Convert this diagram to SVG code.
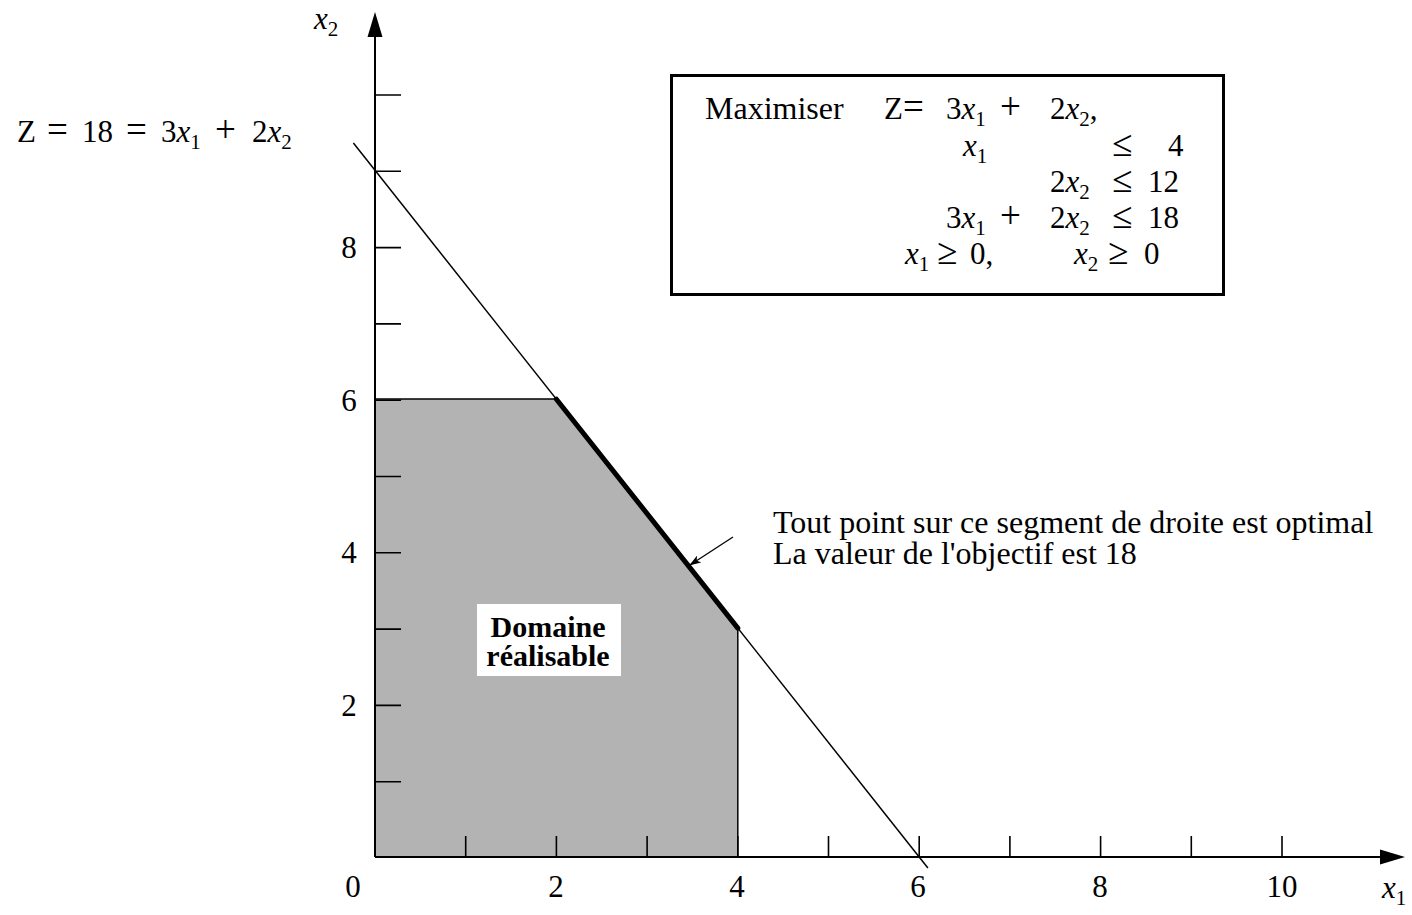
<svg xmlns="http://www.w3.org/2000/svg" width="1412" height="915" viewBox="0 0 1412 915">
<defs>
<style>
.t{font-family:'Liberation Serif',serif;font-size:31px;fill:#000}
.i{font-style:italic}
.s{font-size:21px;font-style:normal}
.op{font-size:37px}
.b{font-weight:bold;font-size:30px}
.ax{stroke:#000;stroke-width:2;fill:none}
.tk{stroke:#000;stroke-width:1.6;fill:none}
.thin{stroke:#000;stroke-width:1.5;fill:none}
</style>
<marker id="ah" viewBox="0 0 12 8" refX="11" refY="4" markerWidth="12" markerHeight="8" markerUnits="userSpaceOnUse" orient="auto">
<path d="M0,0 L12,4 L0,8 L3,4 z" fill="#000"/>
</marker>
</defs>
<rect width="1412" height="915" fill="#fff"/>

<g id="region">
<polygon points="375,857 375,399 556.4,399 737.8,628 737.8,857" fill="#b3b3b3"/>
<polyline class="thin" points="375,399 556.4,399"/>
<polyline class="thin" points="737.8,628 737.8,857"/>
<rect x="477" y="604" width="144" height="72" fill="#fff"/>
<text class="t b" x="548" y="637" text-anchor="middle">Domaine</text>
<text class="t b" x="548" y="666" text-anchor="middle">réalisable</text>
</g>

<g id="axes">
<line class="ax" x1="375" y1="857" x2="375" y2="30"/>
<polygon points="375,12 367.5,37 382.5,37" fill="#000"/>
<line class="ax" x1="375" y1="857" x2="1385" y2="857"/>
<polygon points="1405,857 1380,849.5 1380,864.5" fill="#000"/>
<g class="tk">
<path d="M375,781.7H401M375,705.4H401M375,629.1H401M375,552.8H401M375,476.5H401M375,400.2H401M375,323.9H401M375,247.6H401M375,171.3H401M375,95H401"/>
<path d="M465.7,857V836M556.4,857V836M647.1,857V836M737.8,857V836M828.5,857V836M919.2,857V836M1009.9,857V836M1100.6,857V836M1191.3,857V836M1282,857V836"/>
</g>
<text class="t" text-anchor="middle" x="349" y="716">2</text>
<text class="t" text-anchor="middle" x="349" y="563">4</text>
<text class="t" text-anchor="middle" x="349" y="411">6</text>
<text class="t" text-anchor="middle" x="349" y="258">8</text>
<text class="t" text-anchor="middle" x="353" y="897">0</text>
<text class="t" text-anchor="middle" x="556" y="897">2</text>
<text class="t" text-anchor="middle" x="737" y="897">4</text>
<text class="t" text-anchor="middle" x="918" y="897">6</text>
<text class="t" text-anchor="middle" x="1100" y="897">8</text>
<text class="t" text-anchor="middle" x="1282" y="897">10</text>
<text class="t" y="898"><tspan class="i" x="1382">x</tspan><tspan class="s" dy="7">1</tspan></text>
<text class="t" y="29"><tspan class="i" x="314">x</tspan><tspan class="s" dy="7">2</tspan></text>
</g>

<g id="connectors">
<line class="thin" x1="353.4" y1="143" x2="927.9" y2="868"/>
<line x1="556.4" y1="399.2" x2="737.8" y2="628.1" stroke="#000" stroke-width="5" stroke-linecap="round"/>
<line x1="733" y1="537" x2="690" y2="565" stroke="#000" stroke-width="1.3" marker-end="url(#ah)"/>
</g>

<g id="zlabel">
<text class="t" x="17" y="142">Z</text>
<text class="t op" x="47" y="142">=</text>
<text class="t" x="82" y="142">18</text>
<text class="t op" x="126" y="142">=</text>
<text class="t" x="161" y="142">3<tspan class="i">x</tspan><tspan class="s" dy="7">1</tspan></text>
<text class="t op" x="215" y="142">+</text>
<text class="t" x="252" y="142">2<tspan class="i">x</tspan><tspan class="s" dy="7">2</tspan></text>
</g>

<g id="annotation">
<text class="t" x="773" y="533" style="font-size:32px">Tout point sur ce segment de droite est optimal</text>
<text class="t" x="773" y="564" style="font-size:32px">La valeur de l'objectif est 18</text>
</g>

<g id="problem">
<rect x="671.5" y="75.5" width="552" height="219" fill="none" stroke="#000" stroke-width="3"/>
<text class="t" x="705" y="119" style="font-size:32px">Maximiser</text>
<text class="t" x="884" y="119">Z</text>
<text class="t op" x="903" y="119">=</text>
<text class="t" x="946" y="119">3<tspan class="i">x</tspan><tspan class="s" dy="7">1</tspan></text>
<text class="t op" x="1000" y="119">+</text>
<text class="t" x="1050" y="119">2<tspan class="i">x</tspan><tspan class="s" dy="7">2</tspan><tspan dy="-7">,</tspan></text>

<text class="t" x="963" y="156"><tspan class="i">x</tspan><tspan class="s" dy="7">1</tspan></text>
<text class="t op" x="1112" y="156">≤</text>
<text class="t" x="1168" y="156">4</text>

<text class="t" x="1050" y="192">2<tspan class="i">x</tspan><tspan class="s" dy="7">2</tspan></text>
<text class="t op" x="1112" y="192">≤</text>
<text class="t" x="1148" y="192">12</text>

<text class="t" x="946" y="228">3<tspan class="i">x</tspan><tspan class="s" dy="7">1</tspan></text>
<text class="t op" x="1000" y="228">+</text>
<text class="t" x="1050" y="228">2<tspan class="i">x</tspan><tspan class="s" dy="7">2</tspan></text>
<text class="t op" x="1112" y="228">≤</text>
<text class="t" x="1148" y="228">18</text>

<text class="t" x="905" y="264"><tspan class="i">x</tspan><tspan class="s" dy="7">1</tspan></text>
<text class="t op" x="937" y="264">≥</text>
<text class="t" x="970" y="264">0,</text>
<text class="t" x="1074" y="264"><tspan class="i">x</tspan><tspan class="s" dy="7">2</tspan></text>
<text class="t op" x="1108" y="264">≥</text>
<text class="t" x="1144" y="264">0</text>
</g>
</svg>
